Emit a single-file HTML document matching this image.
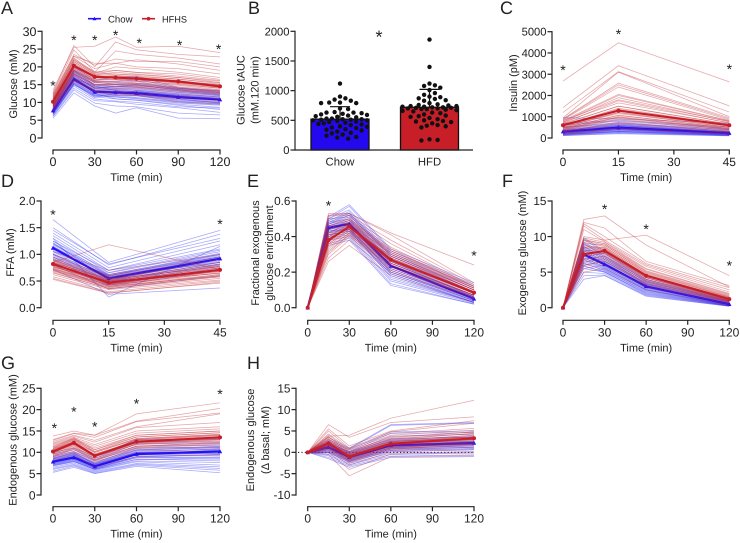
<!DOCTYPE html>
<html lang="en">
<head>
<meta charset="utf-8">
<title>Glucose metabolism panels</title>
<style>
html,body{margin:0;padding:0;background:#fff;}
#figure{display:block;width:740px;height:543px;font-family:"Liberation Sans",Arial,sans-serif;text-rendering:geometricPrecision;}
</style>
</head>
<body>
<svg id="figure" xmlns="http://www.w3.org/2000/svg" width="740" height="543" viewBox="0 0 740 543"></svg>
<script>
// ---------- Panel A ----------
const aTimes = [0,15,30,45,60,90,120];
const aTicksX = [0,30,60,90,120];
const aTicksY = [0,5,10,15,20,25,30];
const aChowMean = [7.7,16.5,13,12.8,12.6,11.5,10.8];
const aHfhsMean = [10.2,20.3,17.2,17,16.7,15.9,14.5];
const aStarTimes = [0,15,30,45,62,91,119];
const aStarValues = [15.7,28.4,28.4,29.8,27.6,27,25.9];
const aChowLines = [
[5.5,12.7,9,7,8.5,5.6,5.4],[6,13.5,9.8,9,8.8,7,6.5],[6.2,14,10.5,10.2,9.5,8.5,7.2],
[6.5,14.6,11,10.4,10,8.8,8.4],[6.8,15,11.6,11,10.7,9.5,8.6],[7,15.4,12,11.5,11.2,10,9.4],
[7.2,15.8,12.2,12,11.8,10.4,9.8],[7.4,16,12.5,12.4,12,10.8,10],[7.5,16.4,12.8,12.6,12.4,11.2,10.4],
[7.7,16.6,13,13,12.8,11.6,10.8],[7.8,17,13.2,13.2,13,12,11],[8,17.2,13.6,13.5,13.4,12.2,11.2],
[8.2,17.6,14,13.8,13.6,12.5,11.5],[8.4,18,14.4,14,14,12.8,11.8],[8.6,18.4,14.8,14.6,14.4,13.2,12],
[8.8,18.8,15,15,15,13.4,12.2],[9,19.2,15.5,15.6,16,13.6,12.4],[9.4,19.6,15.8,16,16.6,14,12.8],
[9.8,20,16.2,17,17.4,14.2,13],[7,17,12.5,11,10.6,9.2,8],[6.6,15.2,11.4,12.6,13.2,11.8,10.6],[8.1,16.8,14.6,13.4,12.2,11,9.8],
[7.5,16.2,13,12.6,12.2,11.2,10.6],[8,17,13.4,13,13,12,11.2],[7.3,15.6,12.4,12.2,12,10.6,10],[8.3,17.8,13.8,13.6,13.4,12.4,11.6],
[7.6,16.8,12.8,12.8,12.9,11.8,11],[8.6,18.2,14.2,14.2,14.2,13,12.2],[7,15,12,11.8,11.4,10.2,9.6],[8.9,18.6,14.6,14.4,14.8,13.6,12.6],
[7.9,16.4,13.4,13.2,12.6,11.4,10.8],[8.2,17.4,14,14.6,15,13.8,13.2],[6.9,15.4,11.8,11.6,11,9.8,9.2],[9.2,19,15,15.2,15.4,14,13.4]
];
const aHfhsLines = [
[13.5,25.5,25.8,28.4,25.5,25.8,24],[12.8,26,20,27,24.8,23.5,22.8],[12.5,24.8,18.5,24.5,23.5,22.5,20.8],
[12.2,23.5,20.5,22.2,21.5,21.5,20],[12,23,19.5,21,22,20.8,19],[11.8,23,21,21,20,19.5,18],
[11.5,22.5,18.2,20,19.5,18.5,17],[11.2,22,18,19,18.5,18,16.5],[11,21.5,17.8,18.5,18,17,16],
[10.8,21,17.5,18,17.5,16.5,15.5],[10.5,20.5,17,17.5,17,16,15],[10.2,20,16.5,17,16.5,15.5,14.5],
[10,19.5,16.2,16.5,16,15,14],[9.8,19.2,16,16,15.5,14.8,13.6],[9.5,18.8,15.5,15.5,15.2,14.2,13.2],
[9.2,18.2,15,15,14.6,13.8,12.8],[9,17.8,14.8,14.5,14.2,13.2,12.4],[8.8,17.5,14.2,14,13.8,12.8,12],
[8.5,17,14,13.5,13,12.2,11.5],[8.2,16.5,13.5,13,12.5,11.5,11],[8,16.2,13.2,12.5,12.2,11,10.2],[7.6,16,13,12,12,10.2,9.6],
[10,20,17,16.8,16.4,15.4,14.2],[10.5,20.8,17.4,17.2,17,16.2,14.8],[9.6,19,16,15.8,15.4,14.4,13.4],[10.8,21.4,17.8,17.6,17.2,16.6,15.2],
[9.2,18.6,15.6,15.2,15,14,13],[11,21.8,18.4,18,17.8,17,15.6],[9.9,19.8,16.6,16.4,16,15.2,14],[10.3,20.6,16.9,17.3,16.8,15.6,14.6],
[8.9,18,15,14.6,14.4,13.4,12.6],[11.4,22.2,18.6,19,18.4,17.4,16.2],[9.4,19,15.8,15,14.8,13.6,12.8],[10.6,20.2,17.6,16.6,16.2,15.8,15]
];

// ---------- Panel B ----------
const bCategories = ["Chow","HFD"];
const bMeans = [520,720];
const bErrors = [210,302];
const bTicksY = [0,500,1000,1500,2000];
const bStarValue = 2000;
const bChowValues = [1120,900,870,850,830,800,800,790,790,700,690,640,630,630,620,610,600,590,580,570,560,550,530,530,520,520,510,510,500,500,490,480,470,460,450,440,430,420,400,390,380,370,350,340,330,310,290,280,260,240,220,210,190];
const bHfdValues = [1860,1400,1120,1090,1080,1050,1010,960,930,900,890,870,860,840,830,790,770,760,750,740,740,730,730,720,720,710,710,700,700,690,690,680,670,660,650,630,620,600,580,570,560,540,520,500,490,480,470,450,420,410,400,380,180,170,160];

// ---------- Panel C ----------
const cTimes = [0,15,45];
const cTicksX = [0,15,30,45];
const cTicksY = [0,1000,2000,3000,4000,5000];
const cChowMean = [300,490,230];
const cHfhsMean = [600,1290,600];
const cStarTimes = [0,15,45];
const cStarValues = [3350,5050,3400];
const cChowLines = [
[950,900,700],[700,820,520],[620,780,450],[520,720,400],[480,680,380],[420,650,340],[380,600,300],[350,560,280],
[320,520,260],[300,480,240],[280,450,220],[250,420,200],[230,400,190],[210,370,170],[190,340,160],[170,310,150],
[160,280,130],[140,260,120],[120,230,110],[110,200,100],
[340,600,270],[280,500,230],[240,440,200],[300,540,250],[200,380,170],[260,460,210],[360,640,300],[180,320,150],
[230,420,190],[320,560,260],[150,300,130],[270,480,220]
];
const cHfhsLines = [
[2680,4480,2640],[1430,3400,1510],[1200,3120,1220],[950,3100,1000],[900,2580,950],[880,2500,900],[850,2400,850],
[820,2050,820],[780,2000,800],[750,1900,760],[700,1750,700],[650,1500,650],[600,1400,600],[560,1300,560],
[500,1200,500],[450,1080,450],[400,980,400],[350,860,350],[300,750,300],[250,600,260],[200,480,200],[170,400,170],
[600,1350,620],[520,1150,520],[680,1500,640],[450,1000,450],[750,1650,720],[380,900,400],[560,1200,560],[640,1300,600],
[300,700,320],[480,1050,500],[820,1800,780],[420,950,430]
];

// ---------- Panel D ----------
const dTimes = [0,15,45];
const dTicksX = [0,15,30,45];
const dTicksY = [0,0.5,1,1.5,2];
const dChowMean = [1.12,0.55,0.92];
const dHfhsMean = [0.82,0.47,0.71];
const dStarTimes = [0,45];
const dStarValues = [1.81,1.625];
const dChowLines = [
[1.65,.85,1.45],[1.5,.8,1.38],[1.45,.82,1.3],[1.4,.75,1.25],[1.35,.7,1.18],[1.3,.2,1.15],[1.25,.7,1.1],[1.2,.65,1.05],
[1.18,.62,1.0],[1.15,.6,.98],[1.12,.58,.95],[1.1,.55,.92],[1.05,.52,.9],[1.0,.5,.85],[.98,.48,.82],[.95,.45,.8],
[.9,.42,.75],[.85,.4,.7],[.8,.35,.6],[.72,.25,.37],
[1.12,.56,.95],[1.08,.58,.9],[1.2,.6,1.0],[1.02,.5,.85],[1.25,.62,1.02],[.95,.48,.82],[1.3,.66,1.08],[1.15,.54,.88],
[1.06,.6,.96],[.92,.44,.78],[1.22,.52,.9],[1,.56,.86]
];
const dHfhsLines = [
[.85,1.18,.72],[1.05,.7,1.0],[1.0,.62,.95],[.95,.6,.9],[.92,.58,.85],[.9,.56,.82],[.88,.54,.8],[.85,.52,.78],
[.82,.5,.75],[.8,.48,.72],[.78,.46,.7],[.76,.45,.68],[.74,.43,.65],[.72,.42,.62],[.7,.4,.6],[.68,.38,.58],
[.65,.36,.55],[.62,.34,.52],[.58,.3,.5],[.55,.28,.46],[.53,.27,.48],
[.82,.48,.72],[.78,.44,.68],[.86,.5,.74],[.74,.42,.66],[.9,.52,.78],[.7,.38,.62],[.8,.46,.7],[.84,.54,.76],
[.66,.36,.58],[.76,.5,.64],[.88,.44,.7],[.72,.4,.6]
];

// ---------- Panel E ----------
const eTimes = [0,15,30,60,120];
const eTicksX = [0,30,60,90,120];
const eTicksY = [0,0.2,0.4,0.6];
const eChowMean = [0,.45,.47,.235,.05];
const eHfhsMean = [0,.38,.455,.27,.085];
const eStarTimes = [15,120];
const eStarValues = [.593,.311];
const eChowLines = [
[0,.51,.58,.33,.14],[0,.5,.57,.32,.13],[0,.5,.55,.31,.12],[0,.49,.54,.3,.11],[0,.48,.53,.29,.1],[0,.47,.52,.28,.09],
[0,.47,.51,.27,.08],[0,.46,.5,.26,.07],[0,.45,.49,.25,.065],[0,.45,.48,.24,.06],[0,.44,.47,.23,.055],[0,.43,.46,.22,.05],
[0,.43,.45,.21,.045],[0,.42,.44,.2,.04],[0,.41,.43,.19,.035],[0,.4,.42,.18,.03],[0,.39,.41,.16,.03],[0,.38,.4,.15,.025],
[0,.36,.39,.135,.02],[0,.35,.38,.125,.02],
[0,.46,.47,.24,.06],[0,.45,.48,.25,.07],[0,.44,.46,.22,.05],[0,.47,.5,.27,.08],[0,.43,.44,.21,.04],[0,.48,.52,.29,.09],
[0,.42,.45,.2,.04],[0,.46,.49,.26,.06],[0,.41,.43,.19,.03],[0,.49,.53,.3,.1],[0,.44,.47,.23,.05],[0,.4,.44,.17,.03]
];
const eHfhsLines = [
[0,.53,.53,.42,.24],[0,.52,.53,.41,.14],[0,.52,.52,.38,.13],[0,.5,.51,.36,.12],[0,.48,.5,.34,.12],[0,.46,.49,.33,.11],
[0,.45,.48,.32,.11],[0,.44,.47,.31,.1],[0,.42,.47,.3,.1],[0,.41,.46,.29,.09],[0,.4,.46,.28,.09],[0,.39,.45,.27,.08],
[0,.38,.45,.26,.08],[0,.37,.44,.25,.07],[0,.36,.43,.24,.07],[0,.34,.42,.23,.06],[0,.32,.41,.22,.06],[0,.3,.4,.21,.05],
[0,.28,.38,.2,.05],[0,.26,.35,.18,.03],
[0,.38,.46,.27,.09],[0,.4,.47,.28,.09],[0,.36,.44,.26,.08],[0,.42,.48,.3,.1],[0,.35,.43,.25,.07],[0,.44,.49,.31,.11],
[0,.33,.42,.24,.07],[0,.39,.45,.29,.1],[0,.37,.46,.27,.08],[0,.31,.41,.23,.06],[0,.46,.5,.32,.12],[0,.41,.44,.26,.09]
];

// ---------- Panel F ----------
const fTimes = [0,15,30,60,120];
const fTicksX = [0,30,60,90,120];
const fTicksY = [0,5,10,15];
const fChowMean = [0,7.5,6.1,3,.5];
const fHfhsMean = [0,7.5,8,4.5,1.2];
const fStarTimes = [30,60,120];
const fStarValues = [14.3,11.5,6.4];
const fChowLines = [
[0,9.8,8,4.5,1.2],[0,9.6,7.8,4.2,1.1],[0,9.2,7.6,4,1],[0,9,7.4,3.8,.9],[0,8.6,7.2,3.6,.85],[0,8.4,7,3.4,.8],
[0,8.2,6.8,3.3,.7],[0,8,6.6,3.2,.65],[0,7.8,6.4,3,.6],[0,7.5,6.2,2.9,.55],[0,7.2,6,2.8,.5],[0,7,5.8,2.6,.45],
[0,6.8,5.6,2.5,.4],[0,6.5,5.4,2.4,.35],[0,6.2,5.3,2.2,.3],[0,5.8,5.1,2,.3],[0,5.5,5,1.9,.25],[0,5,4.8,1.8,.25],
[0,4.5,4.6,1.7,.2],[0,4,4.5,1.6,.2],
[0,7.6,6.2,3.1,.55],[0,7.3,6,2.9,.5],[0,8,6.5,3.3,.6],[0,7,5.7,2.7,.45],[0,8.3,6.8,3.5,.7],[0,6.7,5.5,2.5,.4],
[0,7.8,6.3,3,.5],[0,6.3,5.2,2.3,.35],[0,8.6,7,3.7,.8],[0,7.4,5.9,2.8,.45],[0,5.9,5,2.1,.3],[0,9,7.2,3.9,.9]
];
const fHfhsLines = [
[0,12.4,12.9,8.8,2.9],[0,10,9.5,10.2,4.5],[0,12,11.2,6.5,3.1],[0,11.8,10,6.2,2.8],[0,11.5,9.5,6,2.5],[0,11,9.3,5.8,2.2],
[0,9.8,9.2,5.5,2],[0,9.6,9,5.2,1.8],[0,9.4,8.8,5,1.6],[0,9.2,8.6,4.8,1.5],[0,8.8,8.4,4.6,1.4],[0,8.4,8.2,4.4,1.3],
[0,8,8,4.2,1.2],[0,7.6,7.8,4,1.1],[0,7.2,7.6,3.8,1],[0,6.8,7.2,3.6,.9],[0,6.4,6.8,3.4,.8],[0,6,6.5,3.2,.7],
[0,5.5,6,3,.5],[0,5,5.5,2.5,.3],
[0,7.6,8,4.5,1.2],[0,8,8.3,4.7,1.3],[0,7.2,7.7,4.3,1.1],[0,8.5,8.5,4.9,1.5],[0,6.8,7.3,4,1],[0,9,8.8,5.1,1.7],
[0,6.4,7,3.7,.9],[0,7.4,8.1,4.4,1.3],[0,9.5,9,5.4,1.9],[0,5.9,6.6,3.4,.8],[0,7.9,7.6,4.2,1],[0,8.7,8.2,4.6,1.4]
];

// ---------- Panel G ----------
const gTimes = [0,15,30,60,120];
const gTicksX = [0,30,60,90,120];
const gTicksY = [0,5,10,15,20,25];
const gChowMean = [7.8,8.8,6.7,9.6,10.2];
const gHfhsMean = [10.2,12.2,9.2,12.5,13.5];
const gStarTimes = [1,15,30,60,120];
const gStarValues = [16.4,20.3,16.8,22.2,24.4];
const gChowLines = [
[10,11,9,13,13],[9.6,10.6,8.6,12.5,12.4],[9.3,10.2,8.2,12,12],[9,10,8,11.5,11.6],[8.8,9.8,7.6,11,11.2],[8.6,9.6,7.4,10.6,11],
[8.4,9.4,7.2,10.4,10.6],[8.2,9.2,7,10,10.2],[8,9,6.8,9.8,10],[7.8,8.8,6.6,9.6,9.6],[7.6,8.6,6.5,9.4,9.2],[7.4,8.4,6.3,9,8.8],
[7.2,8.2,6.2,8.8,8.4],[7,8,6,8.4,8],[6.8,7.8,5.9,8,7.6],[6.5,7.5,5.7,7.8,7],[6.2,7.2,5.5,7.4,6.6],[6,7,5.3,7.2,6.2],
[5.6,6.8,5.1,7,5.8],[5.3,6.5,5,6.7,5.2],
[7.8,8.8,6.7,9.6,10.2],[8,9,6.9,9.9,10.4],[7.5,8.5,6.5,9.3,9.8],[8.3,9.3,7.1,10.2,10.8],[7.3,8.3,6.3,9,9.4],[8.5,9.6,7.3,10.5,11.2],
[7.1,8,6.1,8.7,8.9],[7.9,9,6.6,9.7,10],[8.7,9.8,7.5,10.9,11.4],[6.9,7.8,6,8.3,8.5],[7.7,8.6,6.8,9.4,10.6],[8.1,9.1,7,10,9.6]
];
const gHfhsLines = [
[13.8,15,14,19,21.6],[13,14.5,14,17.3,20.3],[12.8,14.4,13.5,17.2,19.2],[12.5,14,12.8,16,19],[12.2,13.8,12.4,15.8,17],[12,13.5,11.8,15,16],
[11.8,13.2,11.4,14.5,15.5],[11.5,13,11,14,15],[11.2,12.8,10.6,13.6,14.6],[11,12.5,10.2,13.2,14.2],[10.8,12.2,10,13,14],[10.5,12,9.6,12.6,13.6],
[10.2,11.8,9.4,12.4,13.2],[10,11.6,9.2,12,13],[9.8,11.2,9,11.8,12.6],[9.5,11,8.6,11.4,12.2],[9.2,10.6,8.2,11,11.8],[9,10.2,7.8,10.6,11.4],
[8.5,10,7.2,10,10.8],[8,9.5,6.5,9,9.5],
[10.2,12.2,9.2,12.5,13.5],[10.5,12.5,9.5,12.8,13.8],[9.9,11.9,8.9,12.2,13.2],[10.8,12.9,9.9,13.2,14.2],[9.6,11.5,8.6,11.9,12.8],[11,13.2,10.2,13.6,14.6],
[9.3,11,8.3,11.4,12.4],[10.3,12.4,9,12.6,13.6],[11.3,13.4,10.6,14,15],[9,10.8,8,11.2,12],[10,12,9.4,12.2,13],[10.6,12.6,9.1,13,14]
];

// ---------- Panel H ----------
const hTimes = [0,15,30,60,120];
const hTicksX = [0,30,60,90,120];
const hTicksY = [-10,-5,0,5,10,15];
const hChowMean = [0,1.2,-1.1,1.6,2.2];
const hHfhsMean = [0,2.1,-1,2,3.3];
const hStarTimes = [];
const hStarValues = [];
const hChowLines = [
[0,3.5,1,6.5,7],[0,3,.8,6.3,6.8],[0,2.6,.6,4.8,5],[0,2.2,.2,4.5,4.6],[0,2,0,3.8,4.2],[0,1.8,-.2,3.2,3.6],
[0,1.6,-.4,2.8,3.2],[0,1.4,-.6,2.5,3],[0,1.2,-.8,2.2,2.6],[0,1.1,-1,1.8,2.2],[0,.9,-1.2,1.5,2],[0,.7,-1.4,1.2,1.8],
[0,.5,-1.6,1,1.4],[0,.2,-1.8,.8,1.2],[0,0,-2,.5,.9],[0,-.2,-2.3,.2,.6],[0,-.5,-2.6,-.2,.2],[0,-.8,-2.9,-.5,-.2],
[0,-1.2,-3.2,-.9,-.6],[0,-1.5,-3.5,-1.2,-1],
[0,1.2,-1.1,1.6,2.2],[0,1.5,-.9,1.9,2.5],[0,.9,-1.3,1.3,1.9],[0,1.8,-.6,2.2,2.8],[0,.6,-1.6,1,1.6],[0,2.1,-.3,2.6,3.2],
[0,.3,-1.9,.7,1.2],[0,1.3,-1,1.5,2.1],[0,2.4,0,3,3.6],[0,0,-2.2,.4,.8],[0,1,-1.2,1.8,2.4],[0,1.6,-.8,1.4,1.9]
];
const hHfhsLines = [
[0,3.8,4,8,12.2],[0,6.5,3.5,7,8.3],[0,5.5,1.5,5,7.4],[0,5,1,4.8,6.8],[0,4.3,.8,4.4,5.6],[0,4,.5,4,5.2],
[0,3.6,.2,3.6,4.8],[0,3.2,0,3.2,4.4],[0,2.9,-.3,2.8,4],[0,2.6,-.5,2.5,3.6],[0,2.3,-.8,2.2,3.2],[0,2,-1,2,3],
[0,1.8,-1.2,1.7,2.7],[0,1.5,-1.5,1.4,2.3],[0,1.2,-1.8,1.1,2],[0,1,-2.1,.8,1.6],[0,.7,-2.5,.5,1.2],[0,.4,-3,.1,.6],
[0,0,-4,-.4,0],[0,-.5,-5.5,-1,-.8],
[0,2.1,-1,2,3.3],[0,2.4,-.8,2.3,3.6],[0,1.8,-1.2,1.7,3],[0,2.8,-.5,2.6,4],[0,1.5,-1.5,1.4,2.6],[0,3.2,-.2,3,4.4],
[0,1.2,-1.8,1.1,2.2],[0,2,-.9,2.1,3.4],[0,3.6,.2,3.4,4.8],[0,.9,-2.1,.8,1.8],[0,2.6,-1.1,1.9,3.1],[0,1.9,-.7,2.4,3.8]
];

// ---------- Drawing ----------
const NS = "http://www.w3.org/2000/svg";
const root = document.getElementById("figure");
const BLUE = "#2410f5", RED = "#c81e28", INK = "#222";

function mk(tag, attrs, name, parent, txt) {
  const el = document.createElementNS(NS, tag);
  for (const k in attrs) el.setAttribute(k, attrs[k]);
  
  
  if (txt !== undefined) el.textContent = txt;
  (parent || root).appendChild(el);
  return el;
}
function label(x, y, s, size, anchor, name, parent, rot) {
  const a = {x:x, y:y, "font-size":size, "text-anchor":anchor, fill:INK};
  if (rot) a.transform = "rotate(-90 " + x + " " + y + ")";
  return mk("text", a, name, parent, s);
}
function rotTitle(cx, cy, s, size, name, parent) {
  return label(cx + size * 0.25, cy, s, size, "middle", name, parent, true);
}
function scale(d0, d1, p0, p1) {
  return v => p0 + (v - d0) * (p1 - p0) / (d1 - d0);
}
function star(x, y, size, name, parent) {
  return label(x, y + size * 0.58, "*", size, "middle", name, parent);
}
function yAxis(g, axisX, yS, ticks, fmt, size) {
  mk("line", {x1:axisX, x2:axisX, y1:yS(ticks[0]) + .6, y2:yS(ticks[ticks.length-1]) - .6, stroke:INK, "stroke-width":1.2}, "y-axis-line", g);
  ticks.forEach(t => {
    mk("line", {x1:axisX - 4.5, x2:axisX, y1:yS(t), y2:yS(t), stroke:INK, "stroke-width":1.2}, "y-tick", g);
    label(axisX - 5.5, yS(t) + size * 0.36, fmt(t), size, "end", "y-tick-label", g);
  });
}
function xAxis(g, axisY, xS, ticks, size) {
  mk("line", {x1:xS(ticks[0]) - .6, x2:xS(ticks[ticks.length-1]) + .6, y1:axisY, y2:axisY, stroke:INK, "stroke-width":1.2}, "x-axis-line", g);
  ticks.forEach(t => {
    mk("line", {x1:xS(t), x2:xS(t), y1:axisY, y2:axisY + 4.5, stroke:INK, "stroke-width":1.2}, "x-tick", g);
    label(xS(t), axisY + 16, String(t), size, "middle", "x-tick-label", g);
  });
}
function pointsOf(times, vals, xS, yS) {
  return vals.map((v, i) => xS(times[i]).toFixed(2) + "," + yS(v).toFixed(2)).join(" ");
}
function thinLines(g, times, lines, thinColor, xS, yS, key, thinAlpha) {
  lines.forEach(vals => {
    mk("polyline", {points:pointsOf(times, vals, xS, yS), fill:"none", stroke:thinColor, "stroke-width":.75, "stroke-opacity":thinAlpha}, key + "-individual-line", g);
  });
}
function meanLine(g, times, mean, color, xS, yS, key, marker) {
  mk("polyline", {points:pointsOf(times, mean, xS, yS), fill:"none", stroke:color, "stroke-width":2.1}, key + "-mean-line", g);
  mean.forEach((v, i) => {
    const x = xS(times[i]), y = yS(v);
    if (marker === "tri") {
      mk("polygon", {points:(x-2.2)+","+(y+1.8)+" "+(x+2.2)+","+(y+1.8)+" "+x+","+(y-2.2), fill:color}, key + "-mean-point", g);
    } else {
      mk("circle", {cx:x, cy:y, r:2, fill:color}, key + "-mean-point", g);
    }
  });
}
function linePanel(cfg) {
  const g = mk("g", {}, cfg.name, root);
  const xS = scale(0, cfg.xMax, cfg.x0, cfg.x1);
  const yS = scale(cfg.yMin, cfg.yMax, cfg.yBottom, cfg.yTop);
  label(cfg.letterX, cfg.letterY, cfg.letter, 18, "start", "panel-letter", g);
  if (cfg.zeroLine) {
    mk("line", {x1:cfg.axisX + 2, x2:cfg.x1, y1:yS(0), y2:yS(0), stroke:"#111", "stroke-width":1, "stroke-dasharray":"1.2 2.2"}, "zero-reference-line", g);
  }
  thinLines(g, cfg.times, cfg.chowLines, "#3030f8", xS, yS, "chow", .42);
  meanLine(g, cfg.times, cfg.chowMean, BLUE, xS, yS, "chow", "tri");
  thinLines(g, cfg.times, cfg.hfhsLines, "#c02a34", xS, yS, "hfhs", .42);
  meanLine(g, cfg.times, cfg.hfhsMean, RED, xS, yS, "hfhs", "dot");
  yAxis(g, cfg.axisX, yS, cfg.ticksY, cfg.fmt || String, cfg.yFont);
  xAxis(g, cfg.axisY, xS, cfg.ticksX, cfg.xFont || 12);
  label((cfg.x0 + cfg.x1) / 2, cfg.axisY + 31, "Time (min)", 11, "middle", "x-axis-title", g);
  cfg.titles.forEach(t => rotTitle(t[0], t[1], t[2], 11, "y-axis-title", g));
  cfg.starTimes.forEach((t, i) => star(xS(t), yS(cfg.starValues[i]), 14, "significance-star", g));
  return g;
}

linePanel({name:"panel-a-glucose", letter:"A", letterX:1, letterY:14, x0:53, x1:220, xMax:120, axisX:42, axisY:150,
  yBottom:138, yTop:31.3, yMin:0, yMax:30, yFont:12.5, xFont:12.5, times:aTimes, ticksX:aTicksX, ticksY:aTicksY,
  chowLines:aChowLines, hfhsLines:aHfhsLines, chowMean:aChowMean, hfhsMean:aHfhsMean, starTimes:aStarTimes, starValues:aStarValues,
  titles:[[14,84,"Glucose (mM)"]]});

linePanel({name:"panel-c-insulin", letter:"C", letterX:500, letterY:14, x0:563, x1:729.3, xMax:45, axisX:552, axisY:150,
  yBottom:138, yTop:31.7, yMin:0, yMax:5000, yFont:11.2, times:cTimes, ticksX:cTicksX, ticksY:cTicksY,
  chowLines:cChowLines, hfhsLines:cHfhsLines, chowMean:cChowMean, hfhsMean:cHfhsMean, starTimes:cStarTimes, starValues:cStarValues,
  titles:[[514,83,"Insulin (pM)"]]});

linePanel({name:"panel-d-ffa", letter:"D", letterX:1, letterY:187, x0:53, x1:220, xMax:45, axisX:41, axisY:320.3,
  yBottom:307.7, yTop:201, yMin:0, yMax:2, yFont:11.8, fmt:v => v.toFixed(1), times:dTimes, ticksX:dTicksX, ticksY:dTicksY,
  chowLines:dChowLines, hfhsLines:dHfhsLines, chowMean:dChowMean, hfhsMean:dHfhsMean, starTimes:dStarTimes, starValues:dStarValues,
  titles:[[11,252.5,"FFA (mM)"]]});

linePanel({name:"panel-e-enrichment", letter:"E", letterX:247, letterY:187, x0:307.7, x1:474, xMax:120, axisX:296, axisY:320.3,
  yBottom:307.7, yTop:201, yMin:0, yMax:.6, yFont:11.8, fmt:v => v.toFixed(1), times:eTimes, ticksX:eTicksX, ticksY:eTicksY,
  chowLines:eChowLines, hfhsLines:eHfhsLines, chowMean:eChowMean, hfhsMean:eHfhsMean, starTimes:eStarTimes, starValues:eStarValues,
  titles:[[256,253,"Fractional exogenous"],[270,253,"glucose enrichment"]]});

linePanel({name:"panel-f-exogenous-glucose", letter:"F", letterX:502, letterY:187, x0:563, x1:729.3, xMax:120, axisX:552, axisY:320.3,
  yBottom:307.7, yTop:201, yMin:0, yMax:15, yFont:11.8, times:fTimes, ticksX:fTicksX, ticksY:fTicksY,
  chowLines:fChowLines, hfhsLines:fHfhsLines, chowMean:fChowMean, hfhsMean:fHfhsMean, starTimes:fStarTimes, starValues:fStarValues,
  titles:[[523,253,"Exogenous glucose (mM)"]]});

linePanel({name:"panel-g-endogenous-glucose", letter:"G", letterX:1, letterY:369, x0:53, x1:220, xMax:120, axisX:41, axisY:506.7,
  yBottom:495, yTop:388.3, yMin:0, yMax:25, yFont:12, times:gTimes, ticksX:gTicksX, ticksY:gTicksY,
  chowLines:gChowLines, hfhsLines:gHfhsLines, chowMean:gChowMean, hfhsMean:gHfhsMean, starTimes:gStarTimes, starValues:gStarValues,
  titles:[[13.7,440,"Endogenous glucose (mM)"]]});

linePanel({name:"panel-h-endogenous-delta", letter:"H", letterX:247, letterY:369, x0:307.7, x1:474, xMax:120, axisX:296, axisY:506.7,
  yBottom:495, yTop:388.3, yMin:-10, yMax:15, yFont:11.8, zeroLine:true, times:hTimes, ticksX:hTicksX, ticksY:hTicksY,
  chowLines:hChowLines, hfhsLines:hHfhsLines, chowMean:hChowMean, hfhsMean:hHfhsMean, starTimes:hStarTimes, starValues:hStarValues,
  titles:[[251,440,"Endogenous glucose"],[266,440,"(\u0394 basal; mM)"]]});

// Panel B: bars with beeswarm dots kept inside the bar width
(function () {
  const g = mk("g", {}, "panel-b-tauc", root);
  const yS = scale(0, 2000, 150, 31.3);
  const axisX = 295;
  const bandCenters = [340, 429.5];
  const barW = 58;
  label(248, 14, "B", 18, "start", "panel-letter", g);
  const fills = ["#2408ee", "#c81e28"];
  const groups = [bChowValues, bHfdValues];
  bCategories.forEach((c, i) => {
    const cx = bandCenters[i];
    mk("rect", {x:cx - barW/2, y:yS(bMeans[i]), width:barW, height:yS(0) - yS(bMeans[i]), fill:fills[i], stroke:"#111", "stroke-width":1.3}, "bar-" + c.toLowerCase(), g);
    mk("line", {x1:cx, x2:cx, y1:yS(bMeans[i]), y2:yS(bMeans[i] + bErrors[i]), stroke:"#111", "stroke-width":1.2}, "error-bar-stem", g);
    mk("line", {x1:cx - 10, x2:cx + 10, y1:yS(bMeans[i] + bErrors[i]), y2:yS(bMeans[i] + bErrors[i]), stroke:"#111", "stroke-width":1.2}, "error-bar-cap", g);
    const placed = [];
    groups[i].slice().sort((a, b) => b - a).forEach(v => {
      const y = yS(v);
      let best = 0, bestGap = -1;
      for (let k = 0; k <= 20; k++) {
        const cand = (k % 2 ? 1 : -1) * Math.ceil(k / 2) * 2.7;
        let gap = 99;
        placed.forEach(p => { gap = Math.min(gap, Math.hypot(p[0] - cand, p[1] - y)); });
        if (gap >= 5.6) { best = cand; bestGap = gap; break; }
        if (gap > bestGap) { best = cand; bestGap = gap; }
      }
      placed.push([best, y]);
      mk("circle", {cx:cx + best, cy:y, r:2.2, fill:"#111"}, "data-point-" + c.toLowerCase(), g);
    });
    label(cx, 165.5, c, 11.3, "middle", "x-category-label", g);
  });
  yAxis(g, axisX, yS, bTicksY, String, 11.2);
  mk("line", {x1:axisX, x2:473, y1:150, y2:150, stroke:INK, "stroke-width":1.2}, "x-axis-line", g);
  rotTitle(241.5, 90, "Glucose tAUC", 11, "y-axis-title", g);
  rotTitle(255.7, 90, "(mM.120 min)", 11, "y-axis-title", g);
  star(379, yS(bStarValue) + 1.5, 18, "significance-star", g);
})();

// Legend
(function () {
  const g = mk("g", {}, "legend", root);
  const e1 = mk("g", {}, "legend-entry-chow", g);
  mk("line", {x1:88, x2:101, y1:18.7, y2:18.7, stroke:BLUE, "stroke-width":1.6}, "legend-line-chow", e1);
  mk("polygon", {points:"92.6,20.2 96.4,20.2 94.5,16.8", fill:BLUE}, "legend-marker-chow", e1);
  label(108, 22.3, "Chow", 9.6, "start", "legend-label-chow", e1);
  const e2 = mk("g", {}, "legend-entry-hfhs", g);
  mk("line", {x1:142, x2:155, y1:18.7, y2:18.7, stroke:RED, "stroke-width":1.6}, "legend-line-hfhs", e2);
  mk("circle", {cx:148.5, cy:18.7, r:1.8, fill:RED}, "legend-marker-hfhs", e2);
  label(162, 22.3, "HFHS", 9.2, "start", "legend-label-hfhs", e2);
})();
</script>
</body>
</html>
